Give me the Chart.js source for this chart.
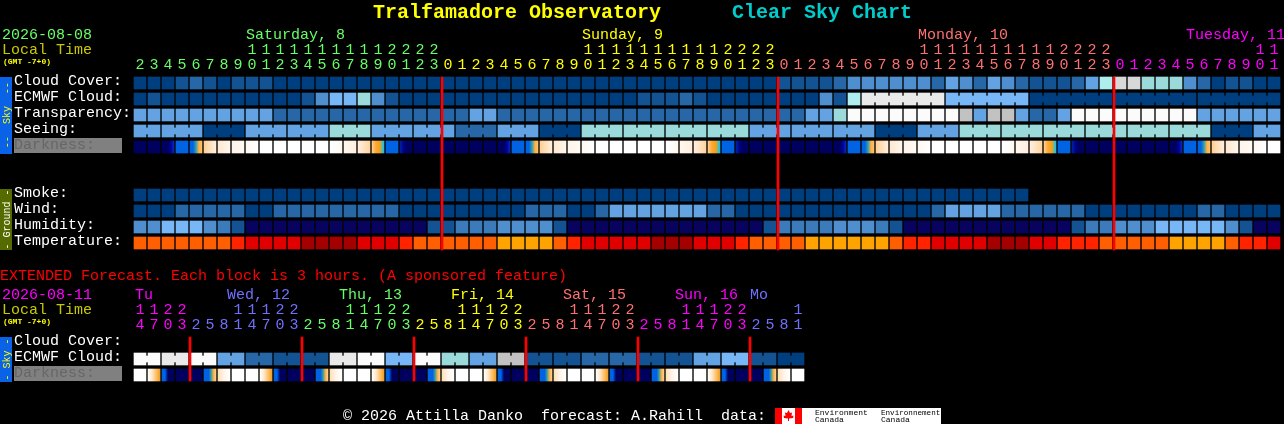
<!DOCTYPE html>
<html><head><meta charset="utf-8">
<style>html,body{margin:0;padding:0;background:#000;overflow:hidden}canvas{display:block}</style>
<script src="https://cdn.jsdelivr.net/npm/chart.js@4/dist/chart.umd.min.js"></script>
</head><body><canvas id="c" width="1284" height="424"></canvas>
<script>
// ---------- data (levels) ----------
const cloudCover=[0,0,0,1,2,1,0,1,1,1,0,0,0,0,0,0,0,0,0,0,0,0,0,0,0,0,0,0,0,0,0,0,0,0,0,0,0,0,0,0,0,0,0,0,0,0,1,1,1,1,2,4,4,4,4,4,4,2,5,4,2,5,4,2,1,1,1,2,5,8,12,12,7,7,7,4,2,0,1,1,0,0];
const ecmwfCloud=[0,1,0,0,0,0,0,0,0,0,0,0,1,4,6,6,7,4,1,0,0,0,0,0,0,0,0,0,0,0,0,0,0,0,0,0,1,1,1,2,1,0,0,0,0,0,0,0,0,4,1,8,10,10,10,10,10,10,6,6,6,6,6,6,0,0,0,0,0,0,0,0,0,0,0,0,0,0,0,0,0,0];
const transparency=[5,5,5,5,5,5,5,5,5,5,2,2,2,2,2,2,2,2,2,2,2,2,2,2,5,5,2,2,2,2,2,2,2,2,2,2,2,2,2,2,2,2,2,2,2,2,2,2,5,5,7,11,11,11,11,11,11,11,11,9,5,9,9,5,2,2,5,11,11,11,11,11,11,11,11,11,5,5,5,5,5,5];
const seeing=[5,5,5,5,5,0,0,0,5,5,5,5,5,5,7,7,7,5,5,5,5,5,5,2,2,2,5,5,5,0,0,0,7,7,7,7,7,7,7,7,7,7,7,7,5,5,5,5,5,5,5,5,5,0,0,0,5,5,5,7,7,7,7,7,7,7,7,7,7,7,7,7,7,7,7,7,7,0,0,0,5,5];
const smoke=[0,0,0,0,0,0,0,0,0,0,0,0,0,0,0,0,0,0,0,0,0,0,0,0,0,0,0,0,0,0,0,0,0,0,0,0,0,0,0,0,0,0,0,0,0,0,0,0,0,0,0,0,0,0,0,0,0,0,0,0,0,0,0,0];
const wind=[0,0,0,2,2,2,2,2,0,0,2,2,2,2,2,2,2,2,2,0,0,0,0,0,0,0,0,0,2,2,2,0,0,2,5,5,5,5,5,5,5,2,2,0,0,0,0,0,0,0,0,0,0,0,0,0,0,2,5,5,5,5,2,2,2,2,2,2,0,0,0,0,0,0,0,0,2,2,0,0,0,0];
const humidity=[4,4,6,6,6,4,3,1,13,13,13,13,13,13,13,13,13,13,13,13,13,1,1,3,3,3,4,4,4,4,1,13,13,13,13,13,13,13,13,13,13,13,13,13,13,1,3,3,3,3,4,4,4,3,1,13,13,13,13,13,13,13,13,13,13,13,13,1,3,3,4,4,4,6,6,6,6,6,4,1,13,13];
const temperature=['o','o','o','o','o','o','o','f','r','r','r','r','d','d','d','d','r','r','r','f','o','o','o','o','o','o','a','a','a','a','o','f','r','r','r','r','r','d','d','d','r','r','r','f','o','o','o','o','a','a','a','a','a','a','o','f','f','r','r','r','r','d','d','d','r','r','f','f','f','o','o','o','o','o','a','a','a','a','o','f','f','r'];
const darkness=['n','n','g','b','M','P','Q','R','S','w','w','w','w','w','T','U','V','E','b','h','n','n','n','n','n','n','g','b','M','P','Q','R','S','w','w','w','w','w','T','U','V','E','b','h','n','n','n','n','n','n','g','b','M','P','Q','R','S','w','w','w','w','w','T','U','V','E','b','h','n','n','n','n','n','n','g','b','M','P','Q','R','S','w'];
const extEcmwf=[11,11,10,10,11,11,5,5,2,2,1,1,1,1,10,10,11,11,6,6,11,11,7,7,5,5,9,9,1,1,1,1,2,2,2,2,1,1,1,1,5,5,6,6,1,1,0,0];
const extDarkness=['w','D','B','n','n','A','C','w','w','D','B','n','n','A','C','w','w','D','B','n','n','A','C','w','w','D','B','n','n','A','C','w','w','D','B','n','n','A','C','w','w','D','B','n','n','A','C','w'];
const hourTicks=[2,3,4,5,6,7,8,9,10,11,12,13,14,15,16,17,18,19,20,21,22,23,0,1,2,3,4,5,6,7,8,9,10,11,12,13,14,15,16,17,18,19,20,21,22,23,0,1,2,3,4,5,6,7,8,9,10,11,12,13,14,15,16,17,18,19,20,21,22,23,0,1,2,3,4,5,6,7,8,9,10,11];
const hourDay=[0,0,0,0,0,0,0,0,0,0,0,0,0,0,0,0,0,0,0,0,0,0,1,1,1,1,1,1,1,1,1,1,1,1,1,1,1,1,1,1,1,1,1,1,1,1,2,2,2,2,2,2,2,2,2,2,2,2,2,2,2,2,2,2,2,2,2,2,2,2,3,3,3,3,3,3,3,3,3,3,3,3];
const extHourTicks=[14,17,20,23,2,5,8,11,14,17,20,23,2,5,8,11,14,17,20,23,2,5,8,11,14,17,20,23,2,5,8,11,14,17,20,23,2,5,8,11,14,17,20,23,2,5,8,11];
const extHourDay=[0,0,0,0,1,1,1,1,1,1,1,1,2,2,2,2,2,2,2,2,3,3,3,3,3,3,3,3,4,4,4,4,4,4,4,4,5,5,5,5,5,5,5,5,6,6,6,6];
const midnights=[22,46,70];
const extMidnights=[4,12,20,28,36,44];
const seeingBlocks=[[0,1],[2,4],[5,7],[8,10],[11,13],[14,16],[17,19],[20,22],[23,25],[26,28],[29,31],[32,34],[35,37],[38,40],[41,43],[44,46],[47,49],[50,52],[53,55],[56,58],[59,61],[62,64],[65,67],[68,70],[71,73],[74,76],[77,79],[80,81]];
const ecmwfBlocks=[[52,57],[58,63],[64,69],[70,75],[76,81]];
const extBlocks=[[0,1],[2,3],[4,5],[6,7],[8,9],[10,11],[12,13],[14,15],[16,17],[18,19],[20,21],[22,23],[24,25],[26,27],[28,29],[30,31],[32,33],[34,35],[36,37],[38,39],[40,41],[42,43],[44,45],[46,47]];

// ---------- styles ----------
const LEVEL=['#003F7F','#135393','#2767A7','#3B7BBB','#4F8FCF','#63A3E3','#77B7F7','#9ADADA','#AEEEEE','#C2C2C2','#EAEAEA','#FBFBFB','#D8D8D8','#08035F'];
const TEMP={o:'#FF5F00',a:'#FFA300',f:'#FF2300',r:'#E10000',d:'#A50000'};
const NAVY='#00005F',BLUE='#0063E3';
const SKY={n:[NAVY,NAVY],g:[NAVY,NAVY,NAVY,'#0000A0','#0030B0'],b:[BLUE,BLUE],
 M:[BLUE,BLUE,'#30A0B0','#FFB040','#FFC070'],P:['#FFCF95','#FFF0DE'],Q:['#FFE8D0','#FFF6EC'],R:['#FFF4E8','#FFFAF5'],S:['#FFF8F2','#FFFFFF'],w:['#FFFFFF','#FFFFFF'],
 T:['#FFFFFF','#FFF8F2'],U:['#FFF7EE','#FFEFDF'],V:['#FFEFE0','#FFD5A0'],E:['#FFCF90','#FFA830','#F0A020','#00C8FF'],h:['#0020A8','#00007A',NAVY,NAVY],
 A:[BLUE,BLUE,BLUE,'#40A0A0','#FFB040','#FFD090'],C:['#FFE0B8','#FFF4E8','#FFFFFF'],D:['#FFFFFF','#FFE8C8','#FFC070','#F0A020'],B:[BLUE,BLUE,NAVY,NAVY,NAVY]};
const ROW_TOP={cloud:77,ecmwf:93,transp:109,seeing:125,dark:141,smoke:189,wind:205,hum:221,temp:237,xecmwf:353,xdark:369};
const CELL=12, PITCH=14, FIRST=134;
const DAYC=['#66FF66','#FFFF00','#FF7070','#FF00FF'];
const XDAYC=['#FF00FF','#7070FF','#66FF66','#FFFF00','#FF7070','#FF00FF','#7070FF'];
const MONO='"Liberation Mono"';

function cells(values,top,color){
  return {type:'bar',grouped:false,barThickness:CELL,borderWidth:0,borderSkipped:false,
    data:values.map((v,i)=>({x:i,y:[top,top+CELL],v})),
    backgroundColor:color};
}
function gradientColor(ctx){
  const raw=ctx.raw; if(!raw) return '#000';
  const stops=SKY[raw.v];
  const x=ctx.chart.scales.x.getPixelForValue(raw.x);
  if(!isFinite(x)) return stops[0];
  const g=ctx.chart.ctx.createLinearGradient(x-CELL/2,0,x+CELL/2,0);
  stops.forEach((c,i)=>g.addColorStop(i/(stops.length-1),c));
  return g;
}
const levelColor=c=>c.raw?LEVEL[c.raw.v]:'#000';
function links(values,top,blocks){ // narrow joins between hours of one forecast block
  const pts=[];
  blocks.forEach(([a,b])=>{for(let i=a;i<b;i++)pts.push({x:i+0.5,y:[top+3,top+CELL-3],v:values[i]});});
  return {type:'bar',grouped:false,barThickness:2,borderWidth:0,borderSkipped:false,data:pts,backgroundColor:levelColor};
}
function redLines(cols,top,bottom){
  return {type:'bar',grouped:false,barThickness:2,borderWidth:0,borderSkipped:false,
    data:cols.map(c=>({x:c-0.5+1/PITCH,y:[top,bottom]})),backgroundColor:'#FF0000',order:-1};
}
const datasets=[
 cells(cloudCover,ROW_TOP.cloud,levelColor),
 cells(ecmwfCloud,ROW_TOP.ecmwf,levelColor),links(ecmwfCloud,ROW_TOP.ecmwf,ecmwfBlocks),
 cells(transparency,ROW_TOP.transp,levelColor),
 cells(seeing,ROW_TOP.seeing,levelColor),links(seeing,ROW_TOP.seeing,seeingBlocks),
 cells(darkness,ROW_TOP.dark,gradientColor),
 cells(smoke,ROW_TOP.smoke,levelColor),
 cells(wind,ROW_TOP.wind,levelColor),
 cells(humidity,ROW_TOP.hum,levelColor),
 cells(temperature,ROW_TOP.temp,c=>c.raw?TEMP[c.raw.v]:'#000'),
 cells(extEcmwf,ROW_TOP.xecmwf,levelColor),links(extEcmwf,ROW_TOP.xecmwf,extBlocks),
 cells(extDarkness,ROW_TOP.xdark,gradientColor),
 redLines(midnights,77,250),
 redLines(extMidnights,337,381)
];

const textPlugin={id:'texts',afterDraw(chart){
  const c=chart.ctx,x=chart.scales.x;
  const T=(s,px,py,col,font)=>{c.font=font||('15px '+MONO);c.fillStyle=col;c.fillText(s,px,py-1);};
  const V=(s,cx,cy,col)=>{c.save();c.translate(cx,cy);c.rotate(-Math.PI/2);c.font='10px '+MONO;c.fillStyle=col;c.textAlign='center';c.fillText(s,0,3.5);c.restore();};
  c.save();c.textBaseline='alphabetic';c.textAlign='left';
  // tabs
  c.fillStyle='#0A62E6';c.fillRect(0,77,12,77);c.fillRect(0,337,12,45);
  c.fillStyle='#556B00';c.fillRect(0,189,12,61);
  c.fillStyle='#808080';c.fillRect(14,138,108,15);c.fillRect(14,366,108,15);
  V('--  Sky  --',6,115,'#FFFF00');V('- Ground -',6,219.5,'#FFFFFF');V('- Sky -',6,359.5,'#FFFF00');
  // title
  T('Tralfamadore Observatory',373,19,'#FFFF00','bold 20px '+MONO);
  T('Clear Sky Chart',732,19,'#00CCCC','bold 20px '+MONO);
  // header
  T('2026-08-08',2,40,'#66FF66');T('Local Time',2,55,'#C8C800');T('(GMT -7+0)',3,65,'#FFFF00','bold 8px '+MONO);
  T('Saturday, 8',246,40,DAYC[0]);T('Sunday, 9',582,40,DAYC[1]);T('Monday, 10',918,40,DAYC[2]);T('Tuesday, 11',1186,40,DAYC[3]);
  c.textAlign='center';
  const hours=(ticks,days,cols,yT,yU)=>ticks.forEach((h,i)=>{const px=x.getPixelForValue(i);
    if(h>=10)T(String(Math.floor(h/10)),px,yT,cols[days[i]]);T(String(h%10),px,yU,cols[days[i]]);});
  hours(hourTicks,hourDay,DAYC,55,70);hours(extHourTicks,extHourDay,XDAYC,315,330);
  c.textAlign='left';
  [['Cloud Cover:',86],['ECMWF Cloud:',102],['Transparency:',118],['Seeing:',134],['Smoke:',198],['Wind:',214],['Humidity:',230],['Temperature:',246],['Cloud Cover:',346],['ECMWF Cloud:',362]].forEach(([s,y])=>T(s,14,y,'#FFFFFF'));
  T('Darkness:',14,150,'#666666');T('Darkness:',14,378,'#666666');
  // extended
  T('EXTENDED Forecast. Each block is 3 hours. (A sponsored feature)',0,281,'#FF0000');
  T('2026-08-11',2,300,'#FF00FF');T('Local Time',2,315,'#C8C800');T('(GMT -7+0)',3,325,'#FFFF00','bold 8px '+MONO);
  T('Tu',135,300,XDAYC[0]);T('Wed, 12',227,300,XDAYC[1]);T('Thu, 13',339,300,XDAYC[2]);T('Fri, 14',451,300,XDAYC[3]);T('Sat, 15',563,300,XDAYC[4]);T('Sun, 16',675,300,XDAYC[5]);T('Mo',750,300,XDAYC[6]);
  // footer
  T('\u00A9 2026 Attilla Danko  forecast: A.Rahill  data:',343,421,'#FFFFFF');
  c.fillStyle='#FFFFFF';c.fillRect(775,408,166,16);
  c.fillStyle='#FF0000';c.fillRect(775,408,7,16);c.fillRect(795,408,7,16);
  c.beginPath();[[788.5,410],[790,413],[792,412.5],[791.5,416],[793.5,415.5],[793,418],[789,418.5],[789,421],[788,421],[788,418.5],[784,418],[783.5,415.5],[785.5,416],[785,412.5],[787,413]].forEach((p,i)=>i?c.lineTo(p[0],p[1]):c.moveTo(p[0],p[1]));c.closePath();c.fill();
  T('Environment',815,416,'#000000','8px '+MONO);T('Canada',815,423,'#000000','8px '+MONO);
  T('Environnement',881,416,'#000000','7.6px '+MONO);T('Canada',881,423,'#000000','8px '+MONO);
  c.restore();
}};

new Chart(document.getElementById('c'),{
  type:'bar',data:{datasets},
  options:{responsive:false,animation:false,devicePixelRatio:1,
    layout:{padding:0},
    plugins:{legend:{display:false},tooltip:{enabled:false},title:{display:false}},
    datasets:{bar:{grouped:false}},
    scales:{
      x:{type:'linear',display:false,min:-(FIRST+CELL/2)/PITCH,max:(1284-FIRST-CELL/2)/PITCH,offset:false},
      y:{type:'linear',display:false,reverse:true,min:0,max:424}
    }},
  plugins:[textPlugin,{id:'bg',beforeDraw(ch){ch.ctx.fillStyle='#000';ch.ctx.fillRect(0,0,1284,424);}}]
});
</script></body></html>
